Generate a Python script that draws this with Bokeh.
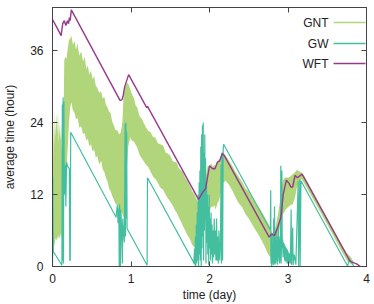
from bokeh.plotting import figure
from bokeh.models import Range1d, LinearAxis, FixedTicker, Label, Arrow
from bokeh.embed import file_html
from bokeh.resources import INLINE

# ---------------- data ----------------
series_names = ["GNT", "GW", "WFT"]
x_ticks = [0, 1, 2, 3, 4]
y_ticks = [0, 12, 24, 36]
x_title = "time (day)"
y_title = "average time (hour)"

# GNT: dense oscillation, given as its upper / lower envelope
gnt_x = [0.000, 0.008, 0.015, 0.022, 0.030, 0.040, 0.050, 0.060, 0.070, 0.080, 0.090, 0.100,
         0.110, 0.120, 0.135, 0.150, 0.165, 0.180, 0.195, 0.210, 0.225, 0.240, 0.260, 0.280,
         0.300, 0.320, 0.340, 0.365, 0.390, 0.410, 0.430, 0.450, 0.470, 0.490, 0.510, 0.530,
         0.550, 0.570, 0.595, 0.620, 0.640, 0.660, 0.680, 0.700, 0.720, 0.740, 0.760, 0.780,
         0.800, 0.830, 0.850, 0.870, 0.890, 0.905, 0.920, 0.935, 0.950, 0.965, 0.990, 1.010,
         1.040, 1.060, 1.080, 1.110, 1.140, 1.160, 1.190, 1.220, 1.250, 1.280, 1.310, 1.340,
         1.370, 1.410, 1.440, 1.470, 1.500, 1.530, 1.560, 1.580, 1.610, 1.640, 1.660, 1.690,
         1.720, 1.750, 1.780, 1.810, 1.832, 1.860, 1.880, 1.900, 1.920, 1.940, 1.960, 1.980,
         2.000, 2.020, 2.040, 2.060, 2.080, 2.100, 2.120, 2.140, 2.160, 2.180, 2.205, 2.250,
         2.289, 2.330, 2.370, 2.415, 2.460, 2.500, 2.541, 2.580, 2.620, 2.667, 2.700, 2.740,
         2.770, 2.790, 2.810, 2.840, 2.870, 2.900, 2.918, 2.940, 2.970, 3.000, 3.030, 3.060,
         3.090, 3.110, 3.140, 3.170, 3.200, 3.296, 3.421, 3.547, 3.673, 3.750, 3.799, 3.830]
gnt_hi = [12.0, 18.0, 24.5, 20.0, 26.0, 21.5, 25.5, 22.0, 26.0, 20.5, 24.0, 21.0,
          23.5, 19.0, 18.0, 34.5, 35.0, 34.6, 36.5, 37.8, 38.0, 38.5, 37.0, 37.6,
          36.2, 37.2, 35.2, 35.8, 34.2, 35.0, 33.0, 33.5, 32.0, 32.7, 31.2, 31.8,
          30.2, 29.8, 29.0, 29.2, 28.0, 28.3, 27.0, 26.6, 25.8, 25.6, 24.2, 23.6,
          22.8, 22.7, 22.0, 22.4, 24.0, 28.5, 29.8, 30.3, 30.7, 30.5, 29.6, 28.8,
          28.0, 26.8, 26.5, 25.0, 24.6, 24.0, 23.2, 22.6, 22.4, 21.6, 21.5, 20.6,
          20.4, 20.2, 19.0, 18.8, 18.5, 17.6, 17.4, 17.4, 16.4, 16.0, 15.7, 14.8,
          14.2, 13.5, 12.6, 12.0, 11.3, 10.5, 11.5, 14.0, 13.5, 14.3, 15.5, 17.0,
          16.2, 17.3, 16.6, 17.0, 16.5, 17.3, 17.8, 18.2, 18.8, 18.7, 18.5, 17.6,
          16.8, 15.8, 15.0, 14.1, 13.0, 12.5, 11.6, 10.8, 10.0, 9.1, 8.3, 7.4,
          6.6, 5.8, 5.5, 6.5, 8.5, 11.0, 13.2, 14.5, 14.9, 14.8, 15.0, 15.4,
          15.7, 16.1, 15.9, 15.7, 15.2, 13.0, 10.0, 7.0, 3.9, 2.2, 1.6, 0.9]
gnt_lo = [0.3, 1.5, 2.5, 3.5, 4.0, 4.8, 4.2, 5.0, 4.5, 5.2, 4.6, 5.5,
          4.8, 5.5, 6.5, 13.0, 14.0, 16.5, 20.0, 24.0, 26.5, 27.4, 26.0, 25.7,
          24.5, 24.8, 23.2, 23.4, 22.0, 22.3, 21.0, 21.3, 20.0, 20.4, 19.2, 19.5,
          18.2, 18.4, 17.0, 17.6, 16.2, 15.8, 14.8, 14.2, 13.0, 12.6, 11.8, 11.2,
          10.6, 10.0, 9.4, 9.2, 8.8, 8.0, 9.5, 13.0, 17.0, 20.0, 21.5, 21.0,
          20.8, 20.3, 19.8, 18.6, 18.0, 17.6, 17.0, 16.6, 15.8, 15.0, 14.6, 14.0,
          13.2, 12.8, 12.0, 11.4, 10.8, 10.2, 9.4, 9.0, 8.2, 7.4, 6.8, 6.0,
          5.2, 4.6, 3.6, 3.2, 2.9, 1.8, 4.0, 6.0, 7.0, 6.5, 8.0, 9.5,
          9.0, 10.0, 9.9, 10.2, 9.5, 10.5, 11.0, 12.0, 13.5, 14.0, 14.3, 13.6,
          12.7, 11.6, 10.6, 9.9, 8.7, 8.0, 7.1, 6.2, 5.4, 4.3, 3.4, 2.2,
          1.6, 1.5, 2.7, 2.5, 4.5, 7.0, 8.2, 8.8, 9.5, 9.9, 10.2, 10.4,
          11.5, 13.0, 14.0, 14.6, 14.0, 11.8, 8.9, 5.9, 2.8, 1.0, 0.4, 0.2]

gw_x = [0.000, 0.003, 0.010, 0.120, 0.125, 0.130, 0.135, 0.140, 0.145, 0.150, 0.160, 0.165,
        0.170, 0.175, 0.180, 0.190, 0.205, 0.215, 0.220, 0.226, 0.232, 0.810, 0.825, 0.835,
        0.845, 0.850, 0.855, 0.860, 0.865, 0.870, 0.880, 0.890, 0.895, 0.905, 0.915, 0.925,
        0.930, 0.935, 0.940, 0.945, 0.950, 0.955, 1.205, 1.210,
        1.790, 1.800, 1.810, 1.815, 1.820, 1.825, 1.832, 1.838, 1.844, 1.850, 1.856, 1.861,
        1.868, 1.872, 1.878, 1.883, 1.889, 1.894, 1.900, 1.905, 1.910, 1.915, 1.920, 1.925,
        1.930, 1.935, 1.940, 1.945, 1.950, 1.955, 1.962, 1.967, 1.973, 1.978, 1.984, 1.990,
        1.996, 2.002, 2.008, 2.014, 2.020, 2.026, 2.032, 2.038, 2.045, 2.052, 2.060, 2.067,
        2.075, 2.082, 2.090, 2.097, 2.105, 2.112, 2.120, 2.130, 2.140, 2.148, 2.153, 2.160,
        2.167, 2.174, 2.180, 2.775,
        2.780, 2.783, 2.788, 2.792, 2.797, 2.802, 2.807, 2.812, 2.818, 2.822, 2.828, 2.832,
        2.838, 2.843, 2.848, 2.853, 2.858, 2.863, 2.868, 2.873, 2.878, 2.883, 2.888, 2.893,
        2.898, 2.903, 2.908, 2.912, 2.918, 2.922, 2.927, 2.932, 2.937, 2.942, 2.947, 2.952,
        2.957, 2.962, 2.967, 2.972, 2.977, 2.982, 2.987, 2.992, 2.997, 3.002, 3.010, 3.020,
        3.030, 3.040, 3.045, 3.060, 3.065, 3.080, 3.100, 3.130, 3.135, 3.150, 3.155, 3.165,
        3.760, 3.780, 3.840]
gw_y = [0.0, 14.8, 2.5, 0.2, 27.0, 1.0, 28.2, 0.5, 27.5, 12.0, 13.0, 17.0,
        10.0, 14.0, 17.4, 16.8, 16.5, 16.3, 1.0, 1.0, 22.4, 8.2, 10.2, 7.2,
        9.8, 0.0, 10.4, 5.0, 0.0, 9.5, 6.5, 0.5, 8.0, 5.5, 4.0, 23.8,
        5.0, 24.0, 8.0, 22.5, 6.5, 6.2, 0.2, 14.8,
        0.9, 0.5, 3.0, 0.2, 5.0, 0.0, 7.0, 0.5, 9.0, 1.0, 12.0, 0.0,
        14.0, 2.0, 16.0, 1.0, 20.0, 0.0, 22.0, 3.0, 23.5, 5.0, 24.0, 1.0,
        19.0, 6.0, 22.0, 8.0, 18.0, 0.5, 14.0, 4.0, 12.0, 2.0, 10.0, 0.2,
        12.0, 3.0, 8.0, 1.0, 9.0, 2.0, 7.0, 0.5, 6.0, 1.5, 8.0, 2.0,
        6.0, 1.0, 8.0, 1.0, 5.0, 0.5, 6.0, 1.0, 4.0, 17.0, 0.5, 19.0,
        1.0, 19.5, 20.4, 6.1,
        12.7, 0.5, 4.5, 0.0, 5.5, 0.5, 3.5, 0.2, 8.0, 0.5, 10.0, 0.3,
        4.8, 0.5, 6.0, 1.0, 4.5, 0.3, 5.0, 0.8, 7.0, 1.5, 4.5, 0.5,
        5.0, 1.0, 16.8, 0.5, 4.0, 16.0, 3.0, 4.5, 1.5, 4.0, 2.0, 3.8,
        1.0, 3.5, 0.8, 3.2, 1.0, 3.0, 0.5, 2.8, 0.5, 2.5, 0.5, 2.2,
        0.5, 9.5, 0.3, 6.5, 0.2, 2.0, 0.3, 14.2, 0.0, 14.5, 0.0, 14.3,
        0.05, 1.3, 0.0]

wft_x = [0.000, 0.050, 0.110, 0.130, 0.150, 0.170, 0.190, 0.205, 0.215, 0.225, 0.240, 0.860,
         0.885, 0.900, 0.920, 0.970, 1.200, 1.210, 1.860, 1.880, 1.910, 1.950, 1.970, 2.000,
         2.040, 2.070, 2.100, 2.130, 2.160, 2.180, 2.760, 2.790, 2.830, 2.870, 2.910, 2.940,
         2.980, 3.010, 3.040, 3.060, 3.090, 3.120, 3.180, 3.790, 3.840, 3.880, 3.920]
wft_y = [41.2, 40.0, 38.5, 40.5, 41.0, 40.2, 41.0, 40.5, 41.5, 41.0, 42.8, 27.7,
         27.8, 28.5, 30.0, 32.0, 26.5, 26.7, 11.2, 11.6, 12.3, 13.0, 14.5, 16.8,
         16.3, 16.3, 17.4, 17.6, 18.8, 18.7, 4.9, 5.4, 5.2, 6.6, 8.2, 12.1,
         14.4, 13.9, 13.2, 13.3, 15.2, 14.8, 15.4, 0.9, 0.6, 0.4, 0.0]

GREEN = "#b0d57a"
TEAL = "#43bfa0"
PURPLE = "#963b8c"
AXIS = "#444444"
TEXT = "#222222"
FONT = "Liberation Sans"
FS = "12px"

p = figure(width=374, height=304, output_backend="svg", toolbar_location=None,
           x_range=Range1d(0, 4), y_range=Range1d(0, 43.2),
           min_border_left=48, min_border_right=8, min_border_top=7, min_border_bottom=38,
           background_fill_color="white", border_fill_color="white")
p.xgrid.visible = False
p.ygrid.visible = False
p.outline_line_color = AXIS

p.varea(x=gnt_x, y1=gnt_lo, y2=gnt_hi, fill_color=GREEN, fill_alpha=1.0)
p.line(gw_x, gw_y, line_color=TEAL, line_width=1.2)
p.line(wft_x, wft_y, line_color=PURPLE, line_width=1.4)


def style(ax, ticks, labels=True):
    ax.ticker = FixedTicker(ticks=ticks)
    ax.major_tick_in = 5
    ax.major_tick_out = 0
    ax.minor_tick_in = 0
    ax.minor_tick_out = 0
    ax.axis_line_color = AXIS
    ax.major_tick_line_color = AXIS
    ax.major_label_text_font = FONT
    ax.major_label_text_color = TEXT
    ax.axis_label_text_font = FONT
    ax.axis_label_text_font_style = "normal"
    ax.axis_label_text_color = TEXT
    ax.axis_label_text_font_size = FS
    if labels:
        ax.major_label_text_font_size = FS
    else:
        ax.major_label_text_font_size = "0px"
        ax.major_label_standoff = 0
        ax.major_label_overrides = {t: "" for t in ticks}


xa = p.xaxis[0]
ya = p.yaxis[0]
style(xa, x_ticks)
style(ya, y_ticks)
xa.axis_label = x_title
ya.axis_label = y_title
xa.major_label_standoff = 7
xa.axis_label_standoff = 2
ya.major_label_standoff = 9
ya.axis_label_standoff = 10

top = LinearAxis()
right = LinearAxis()
style(top, x_ticks, labels=False)
style(right, y_ticks, labels=False)
p.add_layout(top, "above")
p.add_layout(right, "right")

# legend (gnuplot style: label on the left, sample on the right);
# screen units relative to the frame, y measured from its bottom
colors = [GREEN, TEAL, PURPLE]
rows = [244, 223, 203]
for name, c, yy in zip(series_names, colors, rows):
    p.add_layout(Label(x=276, y=yy, x_units="screen", y_units="screen", text=name,
                       text_align="right", text_baseline="middle", text_font=FONT,
                       text_font_size=FS, text_color=TEXT))
    p.add_layout(Arrow(x_start=281, y_start=yy, x_end=313, y_end=yy,
                       start_units="screen", end_units="screen", end=None,
                       line_color=c, line_width=1.6))

open("out.html", "w").write(file_html(p, INLINE))
